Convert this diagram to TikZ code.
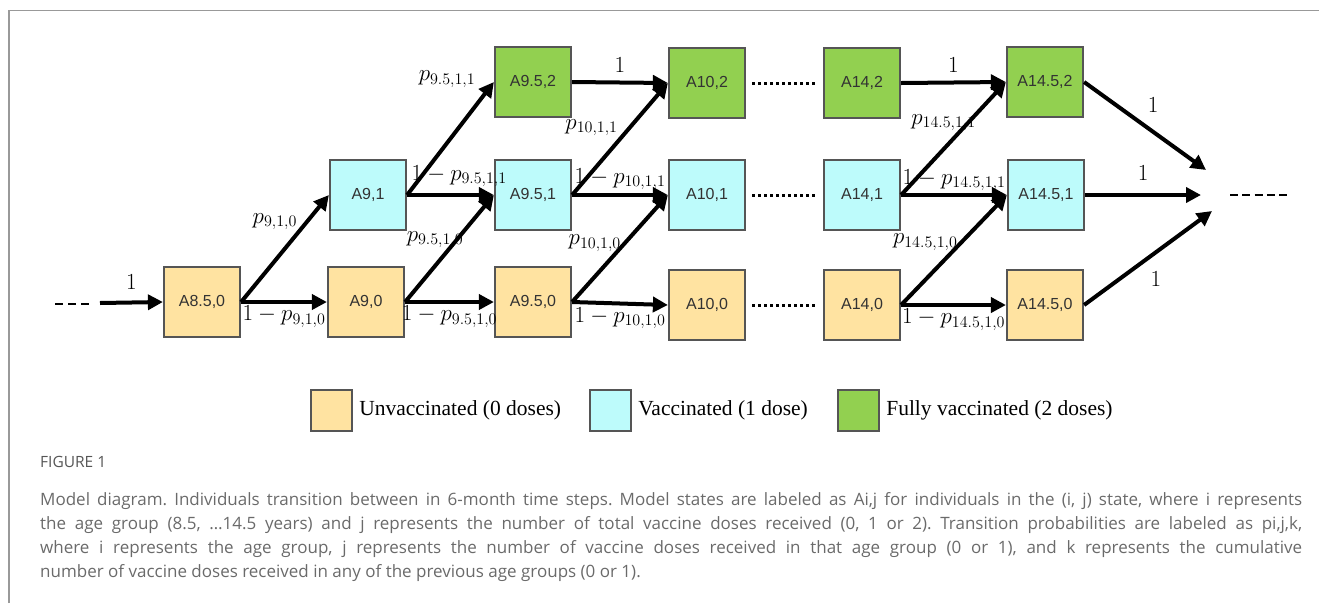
\documentclass[tikz,border=0pt]{standalone}
\usepackage{fix-cm}
\usepackage{fontspec}
\setmainfont{Liberation Serif}
\newfontfamily\boxfont{Liberation Sans}
\newfontfamily\capfont{Open Sans}
\usetikzlibrary{arrows.meta,positioning}

\definecolor{unvac}{HTML}{FFE3A1}
\definecolor{onedose}{HTML}{BDFBFB}
\definecolor{twodose}{HTML}{92D050}
\definecolor{rimgray}{HTML}{555555}
\definecolor{capgray}{HTML}{6A6A6A}

\tikzset{
  agebox/.style={draw=rimgray, line width=2.2pt, minimum width=76pt, minimum height=70pt,
    inner sep=0pt, font=\boxfont\fontsize{16}{16}\selectfont, text=black!80},
  keybox/.style={draw=rimgray, line width=2.2pt, minimum width=41pt, minimum height=41pt, inner sep=0pt},
  keytext/.style={font=\fontsize{21.5}{22}\selectfont, inner sep=0pt},
  flow/.style={line width=4pt, -{Triangle[length=15pt,width=15pt]}},
  dotrow/.style={line width=3pt, dash pattern=on 3pt off 3pt, shorten <=6pt, shorten >=5pt},
  prob/.style={font=\fontsize{23}{23}\selectfont, inner sep=2pt}
}

\begin{document}
\begin{tikzpicture}[x=1pt,y=-1pt]
        \useasboundingbox (0,0) rectangle (1319,603);
        \draw[gray!80, line width=1.3pt] (9,603) -- (9,10.5) -- (1319,10.5);

        % states
        \node[agebox, fill=unvac] at (202,302) (A850) {A8.5,0};
        \node[agebox, fill=onedose] at (368,195) (A91) {A9,1};
        \node[agebox, fill=unvac] at (366,302) (A90) {A9,0};
        \node[agebox, fill=twodose] at (533,82) (A952) {A9.5,2};
        \node[agebox, fill=onedose] at (533,195) (A951) {A9.5,1};
        \node[agebox, fill=unvac] at (533,302) (A950) {A9.5,0};
        \node[agebox, fill=twodose] at (707,83) (A102) {A10,2};
        \node[agebox, fill=onedose] at (707,195) (A101) {A10,1};
        \node[agebox, fill=unvac] at (707,305) (A100) {A10,0};
        \node[agebox, fill=twodose] at (862,83) (A142) {A14,2};
        \node[agebox, fill=onedose] at (862,195) (A141) {A14,1};
        \node[agebox, fill=unvac] at (862,305) (A140) {A14,0};
        \node[agebox, fill=twodose] at (1045,82) (A1452) {A14.5,2};
        \node[agebox, fill=onedose] at (1046,195) (A1451) {A14.5,1};
        \node[agebox, fill=unvac] at (1045,305) (A1450) {A14.5,0};

        \coordinate (dashL1) at (55,304);
        \coordinate (dashL2) at (89,304);
        \coordinate (inL) at (100,303);
        \coordinate (out2) at (1206,170);
        \coordinate (out1) at (1201,195);
        \coordinate (out0) at (1212,211);
        \coordinate (dashR1) at (1230,195);
        \coordinate (dashR2) at (1287,195);

        % transitions
        \draw [line width=2.5pt, dash pattern=on 8pt off 5pt] (dashL1) -- (dashL2);
        \draw [flow] (inL) -- (A850.west) node[midway,above=9pt,prob] {$1$};
        \draw [flow] (A850.east) -- (A91.west) node[pos=0.75,left=6pt,prob] {$p_{9,1,0}$};
        \draw [flow] (A850.east) -- (A90.west) node[midway,below,prob] {$1-p_{9,1,0}$};
        \draw [flow] (A91.east) -- (A952.west) node[pos=0.88,above left=6pt,prob] {$p_{9.5,1,1}$};
        \draw [flow] (A91.east) -- (A951.west) node[pos=0.6,above=4pt,prob] {$1-p_{9.5,1,1}$};
        \draw [flow] (A90.east) -- (A951.west) node[pos=0.7,below left,prob] {$p_{9.5,1,0}$};
        \draw [flow] (A90.east) -- (A950.west) node[midway,below,prob] {$1-p_{9.5,1,0}$};
        \draw [flow] (A952.east) -- (A102.west) node[midway,above=6pt,prob] {$1$};
        \draw [flow] (A951.east) -- (A102.west) node[pos=0.6,left=8pt,prob] {$p_{10,1,1}$};
        \draw [flow] (A951.east) -- (A101.west) node[midway,above=1pt,prob] {$1-p_{10,1,1}$};
        \draw [flow] (A950.east) -- (A101.west) node[pos=0.55,left,prob] {$p_{10,1,0}$};
        \draw [flow] (A950.east) -- (A100.west) node[midway,below,prob] {$1-p_{10,1,0}$};
        \draw [dotrow] (A102) -- (A142);
        \draw [dotrow] (A101) -- (A141);
        \draw [dotrow] (A100) -- (A140);
        \draw [flow] (A142.east) -- (A1452.west) node[midway,above=6pt,prob] {$1$};
        \draw [flow] (A141.east) -- (A1452.west) node[pos=0.75,below left,prob] {$p_{14.5,1,1}$};
        \draw [flow] (A141.east) -- (A1451.west) node[midway,above,prob] {$1-p_{14.5,1,1}$};
        \draw [flow] (A140.east) -- (A1451.west) node[pos=0.57,left,prob] {$p_{14.5,1,0}$};
        \draw [flow] (A140.east) -- (A1450.west) node[midway,below,prob] {$1-p_{14.5,1,0}$};
        \draw [flow] (A1452.east) -- (out2) node[pos=0.45,above right=7pt,prob] {$1$};
        \draw [flow] (A1451.east) -- (out1) node[midway,above=11pt,prob] {$1$};
        \draw [flow] (A1450.east) -- (out0) node[pos=0.45,below right=7pt,prob] {$1$};
        \draw [line width=2pt, dash pattern=on 8pt off 4.25pt] (dashR1) -- (dashR2);

        % legend
        \node[keybox, fill=unvac] at (331.5,410.5) (K0) {};
        \node[keytext, right=6pt of K0] (K0t) {Unvaccinated (0 doses)};
        \node[keybox, fill=onedose] at (610.5,410.5) (K1) {};
        \node[keytext, right=6pt of K1] (K1t) {Vaccinated (1 dose)};
        \node[keybox, fill=twodose] at (858.5,410.5) (K2) {};
        \node[keytext, right=6pt of K2] (K2t) {Fully vaccinated (2 doses)};

        % caption
        \node[anchor=north west, inner sep=0pt, text=rimgray, font=\capfont\fontsize{15.5}{16}\selectfont] at (40,456.5) (fig) {FIGURE 1};
        \node[anchor=north west, inner sep=0pt, text width=1262pt, align=justify, text=capgray,
              font=\capfont\fontsize{17}{24}\selectfont\frenchspacing] at (40,492.5) (cap)
              {Model diagram. Individuals transition between in 6-month time steps. Model states are labeled as Ai,j for individuals in the (i, j) state, where i represents\linebreak
               the age group (8.5, …14.5 years) and j represents the number of total vaccine doses received (0, 1 or 2). Transition probabilities are labeled as pi,j,k,\linebreak
               where i represents the age group, j represents the number of vaccine doses received in that age group (0 or 1), and k represents the cumulative\linebreak
               number of vaccine doses received in any of the previous age groups (0 or 1).};
    \end{tikzpicture}
\end{document}
